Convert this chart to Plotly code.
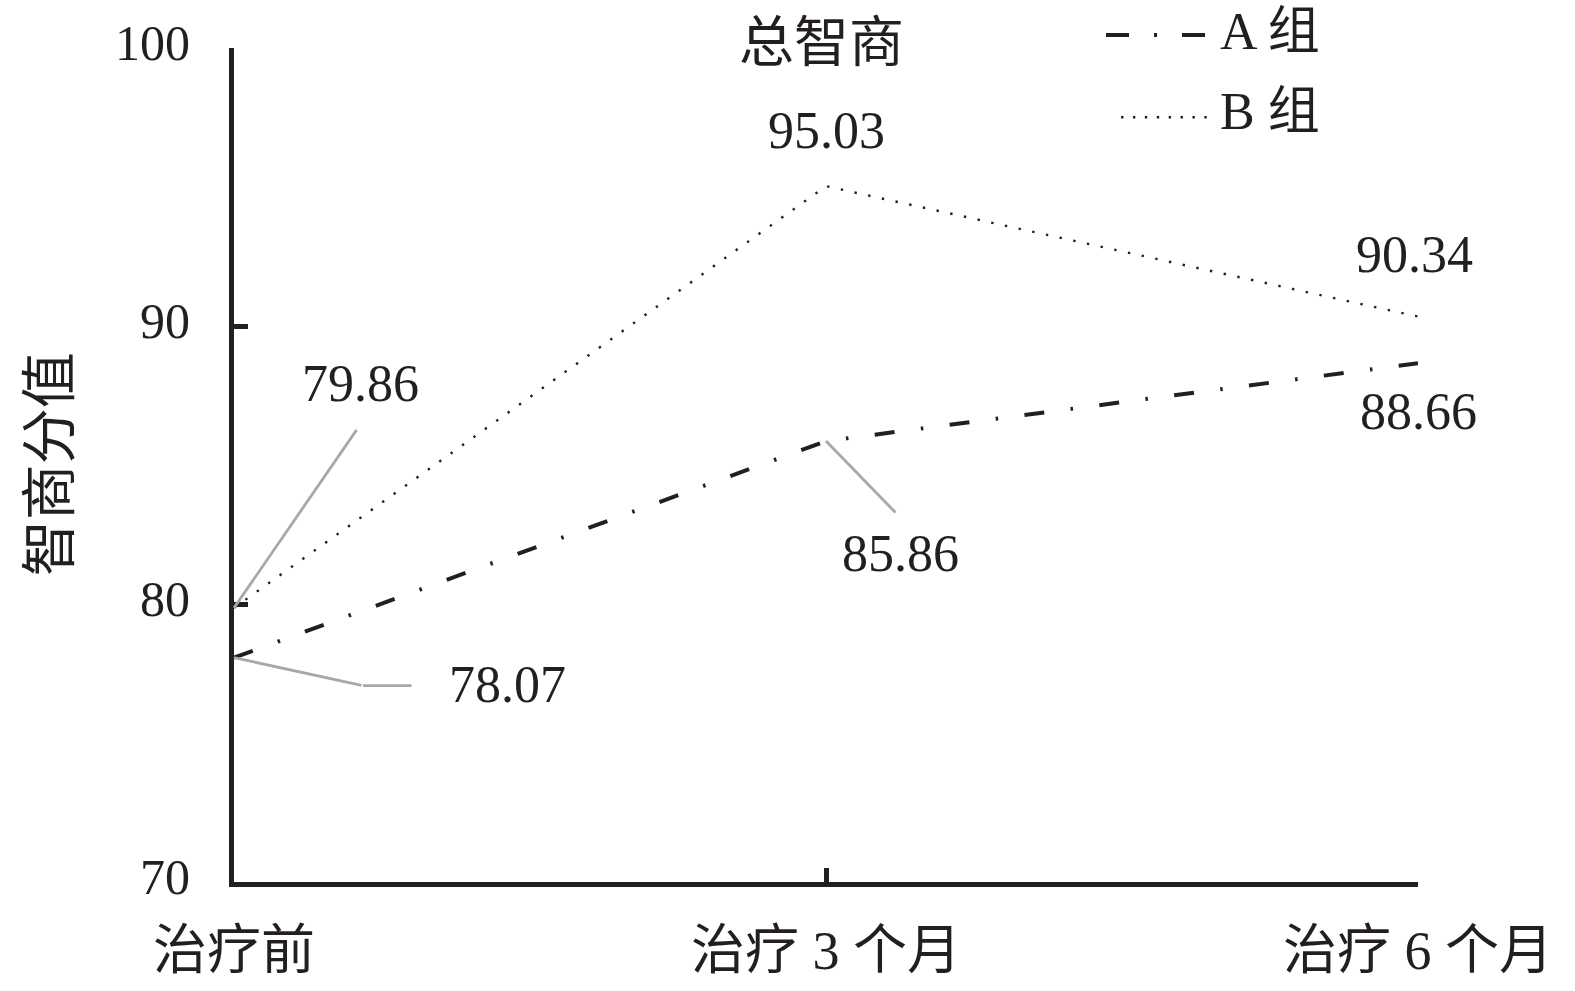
import plotly.graph_objects as go

categories = ["治疗前", "治疗 3 个月", "治疗 6 个月"]
group_a = [78.07, 85.86, 88.66]
group_b = [79.86, 95.03, 90.34]
series_names = ["A 组", "B 组"]
y_ticks = [70, 80, 90, 100]
title_text = "总智商"
y_title = "智商分值"

FONT = "Liberation Serif, Noto Sans CJK SC, serif"
INK = "#231f20"
GREY = "#a8a8a8"

fig = go.Figure()
fig.add_trace(go.Scatter(x=categories, y=group_a, mode="lines", name=series_names[0],
                         line=dict(color=INK, width=4, dash="20px,26.5px,2.5px,26.5px"),
                         showlegend=False))
fig.add_trace(go.Scatter(x=categories, y=group_b, mode="lines", name=series_names[1],
                         line=dict(color=INK, width=2.4, dash="2.4px,11.6px"),
                         showlegend=False))

ann = []
# data labels (offsets in pixels from the data point)
label_specs = [
    (0, group_b[0], 126, 224),
    (0, group_a[0], 273, -27),
    (1, group_b[1], 0, 56),
    (1, group_a[1], 74, -112),
    (2, group_b[2], -4, 62),
    (2, group_a[2], 0, -48),
]
for ci, val, xs, ys in label_specs:
    ann.append(dict(x=categories[ci], y=val, text=f"{val:.2f}", showarrow=False,
                    xshift=xs, yshift=ys, font=dict(family=FONT, size=52, color=INK)))

# grey leader lines
leaders = [
    (0, group_b[0], 0, 0, 124, -180),
    (0, group_a[0], 0, 0, 129, 28),
    (0, group_a[0], 129, -28, 50, 0),
    (1, group_a[1], 0, 0, 71, 73),
]
for ci, val, xs, ys, ax, ay in leaders:
    ann.append(dict(x=categories[ci], y=val, text=" ", showarrow=True, arrowhead=0,
                    arrowwidth=2.8, arrowcolor=GREY, ax=ax, ay=ay, xshift=xs, yshift=ys,
                    standoff=0, startstandoff=0, font=dict(size=1)))

# y-axis title
ann.append(dict(xref="paper", yref="paper", x=-0.1554, y=0.501, xanchor="center", yanchor="middle",
                text=y_title, textangle=-90,
                showarrow=False, font=dict(family=FONT, size=56, color=INK)))

# manual legend
ann.append(dict(xref="paper", yref="paper", x=0.8311, y=1.0192, xanchor="left", yanchor="middle",
                text=series_names[0], showarrow=False, font=dict(family=FONT, size=52, color=INK)))
ann.append(dict(xref="paper", yref="paper", x=0.8311, y=0.9238, xanchor="left", yanchor="middle",
                text=series_names[1], showarrow=False, font=dict(family=FONT, size=52, color=INK)))

shapes = [
    dict(type="line", xref="paper", yref="paper", x0=0.7365, x1=0.8201, y0=1.0156, y1=1.0156,
         line=dict(color=INK, width=4, dash="23px,25px,3px,25px")),
    dict(type="line", xref="paper", yref="paper", x0=0.7492, x1=0.8221, y0=0.9169, y1=0.9169,
         line=dict(color=INK, width=2.4, dash="2.4px,9.5px")),
]

fig.update_layout(
    width=1575, height=991,
    margin=dict(l=234, r=157, t=48, b=109, autoexpand=False),
    paper_bgcolor="white", plot_bgcolor="white",
    title=dict(text=title_text, x=0.4963, xref="paper", y=1 - 42 / 991, yanchor="middle",
               xanchor="center", font=dict(family=FONT, size=55, color=INK)),
    annotations=ann, shapes=shapes,
    xaxis=dict(type="category", range=[0, 2], showgrid=False, zeroline=False,
               automargin=False,
               showline=True, linecolor=INK, linewidth=5,
               ticks="inside", ticklen=14, tickwidth=5, tickcolor=INK,
               ticklabelstandoff=17,
               tickfont=dict(family=FONT, size=54, color=INK)),
    yaxis=dict(range=[70, 100], tickvals=y_ticks, showgrid=False, zeroline=False,
               automargin=False,
               showline=True, linecolor=INK, linewidth=5,
               ticks="inside", ticklen=14, tickwidth=5, tickcolor=INK,
               ticklabelstandoff=29, ticklabelshift=-6,
               tickfont=dict(family=FONT, size=50, color=INK)),
    showlegend=False,
)

# remove the browser's default 8px body margin so the figure fills the window exactly
fig.write_html("out.html", config={"displayModeBar": False},
               post_script="document.body.style.margin='0px';")
